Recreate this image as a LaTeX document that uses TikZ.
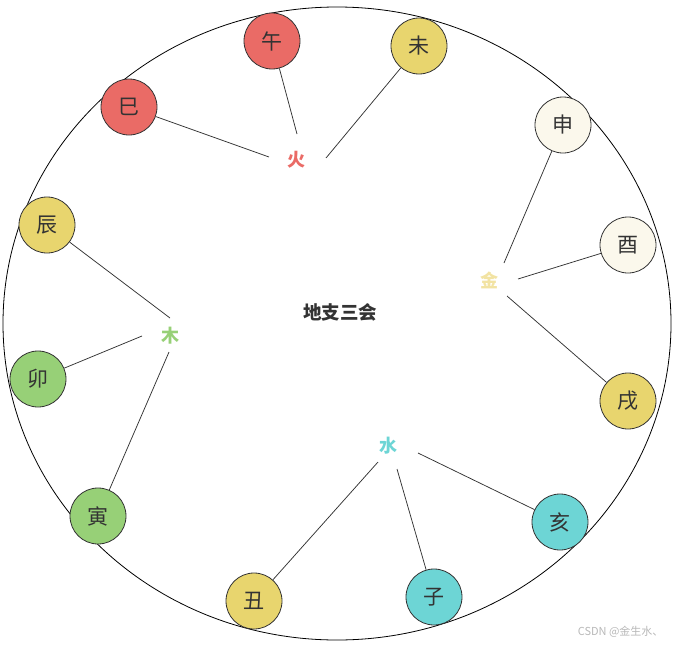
\documentclass[tikz,border=0pt]{standalone}
\usepackage{fontspec}
\usetikzlibrary{shapes.geometric}
\setmainfont{Noto Sans CJK SC}
\definecolor{cred}{HTML}{EA6B66}
\definecolor{cyel}{HTML}{E8D56E}
\definecolor{ccream}{HTML}{FBF8EC}
\definecolor{cgreen}{HTML}{97D077}
\definecolor{ccyan}{HTML}{6DD5D5}
\definecolor{cgold}{HTML}{F2E3A3}
\definecolor{ctext}{HTML}{333333}
\begin{document}
\begin{tikzpicture}[x=1pt,y=-1pt,
  branch/.style={circle,draw=ctext,line width=0.8pt,minimum size=56pt,inner sep=0pt,text=ctext,font=\fontsize{21}{21}\selectfont},
  element/.style={inner sep=0pt,font=\fontsize{18}{18}\selectfont\bfseries},
  link/.style={draw=ctext,line width=0.75pt}]
\useasboundingbox (0,0) rectangle (677,645);
\node[draw=black,line width=0.8pt,ellipse,minimum width=668pt,minimum height=633pt,inner sep=0pt] (ring) at (337,323.5) {};
\node[font=\fontsize{18.5}{18.5}\selectfont\bfseries,text=ctext] (title) at (340,312) {地支三会};
% elements
\node[element,text=cred] (huo) at (296,160) {火};
\node[element,text=cgold] (jin) at (489,280) {金};
\node[element,text=cgreen] (mu) at (170,336) {木};
\node[element,text=ccyan] (shui) at (388,446) {水};
% link ends near the elements
\coordinate (huo-a) at (297,134);
\coordinate (huo-b) at (326,158);
\coordinate (huo-c) at (269,157);
\coordinate (jin-a) at (504,263);
\coordinate (jin-b) at (518,279);
\coordinate (jin-c) at (507,296);
\coordinate (mu-a) at (170,318);
\coordinate (mu-b) at (142,336);
\coordinate (mu-c) at (169,352);
\coordinate (shui-a) at (378,462);
\coordinate (shui-b) at (397,469);
\coordinate (shui-c) at (418,453);
% branches
\node[branch,fill=cred] (wu) at (272,41) {午};
\node[branch,fill=cyel] (wei) at (419,46) {未};
\node[branch,fill=cred] (si) at (129,107) {巳};
\node[branch,fill=ccream] (shen) at (563,125) {申};
\node[branch,fill=ccream] (you) at (628,245) {酉};
\node[branch,fill=cyel] (xu) at (628,401) {戌};
\node[branch,fill=cyel] (chen) at (47,225) {辰};
\node[branch,fill=cgreen] (mao) at (38,379) {卯};
\node[branch,fill=cgreen] (yin) at (98,516) {寅};
\node[branch,fill=cyel] (chou) at (254,601) {丑};
\node[branch,fill=ccyan] (zi) at (434,597) {子};
\node[branch,fill=ccyan] (hai) at (560,522) {亥};
% links
\draw[link] (wu) -- (huo-a);
\draw[link] (wei) -- (huo-b);
\draw[link] (si) -- (huo-c);
\draw[link] (shen) -- (jin-a);
\draw[link] (you) -- (jin-b);
\draw[link] (xu) -- (jin-c);
\draw[link] (chen) -- (mu-a);
\draw[link] (mao) -- (mu-b);
\draw[link] (yin) -- (mu-c);
\draw[link] (chou) -- (shui-a);
\draw[link] (zi) -- (shui-b);
\draw[link] (hai) -- (shui-c);
\node[anchor=east,text=black!28,font=\fontsize{11}{11}\selectfont] (mark) at (667,632) {CSDN @金生水、};
\end{tikzpicture}
\end{document}
